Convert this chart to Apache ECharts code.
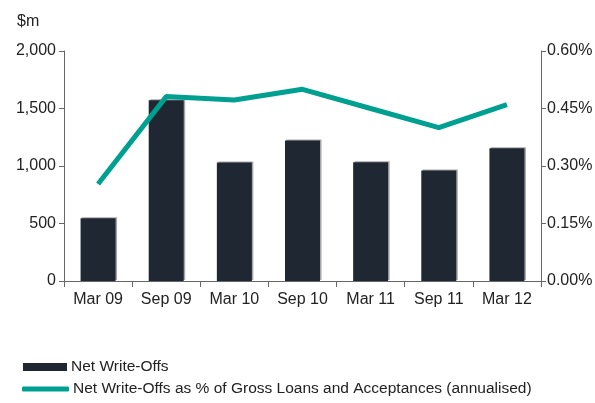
<!DOCTYPE html>
<html>
<head>
<meta charset="utf-8">
<script src="https://cdn.jsdelivr.net/npm/echarts@6/dist/echarts.min.js"></script>
<style>
  html, body { margin: 0; padding: 0; background: #fff; }
  #chart { width: 595px; height: 403px; }
</style>
</head>
<body>
<div id="chart"></div>
<script>
  // half-year periods
  const categories = ['Mar 09', 'Sep 09', 'Mar 10', 'Sep 10', 'Mar 11', 'Sep 11', 'Mar 12'];
  // net write-offs, $m
  const writeOffs = [545, 1571, 1030, 1222, 1032, 960, 1155];
  // net write-offs as % of gross loans (annualised)
  const writeOffPct = [0.253, 0.481, 0.472, 0.500, 0.450, 0.400, 0.460];

  const barName = 'Net Write-Offs';
  const lineName = 'Net Write-Offs as % of Gross Loans and Acceptances (annualised)';

  const font = '"Liberation Sans", Arial, sans-serif';
  const fs = 16;
  const axisGray = '#666';

  let chart = echarts.init(document.getElementById('chart'));
  chart.setOption({
    animation: false,
    textStyle: { fontFamily: font },
    grid: { left: 64, right: 54, top: 51, bottom: 122, outerBoundsMode: 'none' },
    graphic: [{
      type: 'text',
      left: 17,
      top: 14,
      style: { text: '$m', fontSize: fs, fill: '#222', fontFamily: font }
    }],
    legend: [
      {
        orient: 'vertical',
        left: 18,
        top: 354,
        data: [{ name: barName, icon: 'rect' }],
        itemWidth: 44,
        itemHeight: 8,
        textStyle: { fontSize: 15.5, color: '#222', fontFamily: font, padding: [0, 0, 0, -1] }
      },
      {
        orient: 'vertical',
        left: 17,
        top: 376,
        data: [{ name: lineName, icon: 'roundRect' }],
        itemWidth: 47,
        itemHeight: 5,
        textStyle: { fontSize: 15.5, color: '#222', fontFamily: font, padding: [0, 0, 0, -1] }
      }
    ],
    xAxis: {
      type: 'category',
      data: categories,
      axisLine: { lineStyle: { color: axisGray } },
      axisTick: { show: true, length: 6, alignWithLabel: false, lineStyle: { color: axisGray } },
      axisLabel: { fontSize: fs, color: '#222', margin: 11, interval: 0, fontFamily: font }
    },
    yAxis: [
      {
        type: 'value',
        min: 0,
        max: 2000,
        interval: 500,
        splitLine: { show: false },
        axisLine: { show: true, lineStyle: { color: axisGray } },
        axisTick: { show: true, length: 5, lineStyle: { color: axisGray } },
        axisLabel: {
          fontSize: fs,
          color: '#222',
          margin: 8,
          fontFamily: font,
          formatter: v => v.toLocaleString('en-US')
        }
      },
      {
        type: 'value',
        min: 0,
        max: 0.6,
        interval: 0.15,
        position: 'right',
        splitLine: { show: false },
        axisLine: { show: true, lineStyle: { color: axisGray } },
        axisTick: { show: true, length: 5, lineStyle: { color: axisGray } },
        axisLabel: {
          fontSize: fs,
          color: '#222',
          margin: 6,
          fontFamily: font,
          formatter: v => v.toFixed(2) + '%'
        }
      }
    ],
    series: [
      {
        name: barName,
        type: 'bar',
        data: writeOffs,
        barWidth: 35,
        itemStyle: {
          color: '#1e2732',
          shadowColor: 'rgba(0,0,0,0.35)',
          shadowOffsetX: 1.5,
          shadowOffsetY: -1,
          shadowBlur: 0
        }
      },
      {
        name: lineName,
        type: 'line',
        yAxisIndex: 1,
        data: writeOffPct,
        symbol: 'none',
        lineStyle: { color: '#00a090', width: 5 },
        itemStyle: { color: '#00a090' },
        z: 3
      }
    ]
  });
</script>
</body>
</html>
